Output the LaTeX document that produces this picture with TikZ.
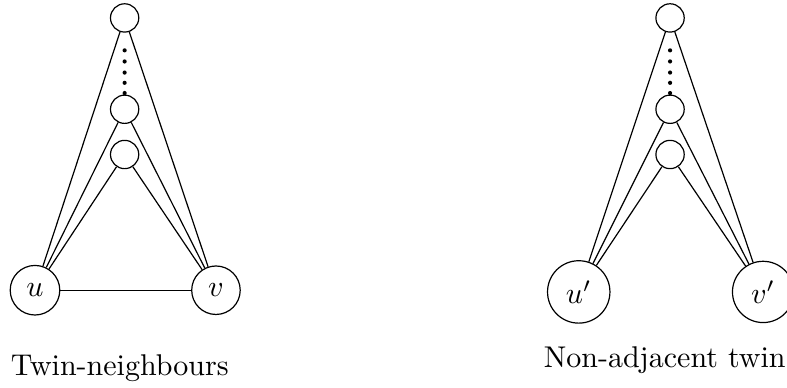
\documentclass[tikz,border=0pt]{standalone}
\usepackage{tikz}
\usetikzlibrary{shapes.geometric}
\usepackage{amsmath, amsfonts}
\tikzset{vtx/.style={draw=black, circle}}

\begin{document}
\begin{tikzpicture}
      \useasboundingbox (-0.41,-1.136) rectangle (8.81,3.40);
      % twin-neighbours
      \node [vtx, name=u] at (0,0) {$u$};
      \node [vtx, name=v] at (2.12,0) {$v$};
      \node [vtx, name=a1] at (1.05,3.19) {};
      \node [vtx, name=a2] at (1.05,2.12) {};
      \node [vtx, name=a3] at (1.05,1.59) {};
      \foreach \y in {2.31,2.43,2.55,2.68,2.81}
        \fill (1.05,\y) circle (0.7pt);
      \node [anchor=base west, inner sep=0pt, name=lab1] at (-0.29,-1.0) {Twin-neighbours};

      \draw (u) -- (a1);
      \draw (u) -- (a2);
      \draw (u) -- (a3);
      \draw (v) -- (a1);
      \draw (v) -- (a2);
      \draw (v) -- (a3);
      \draw (u) -- (v);

      % non-adjacent twins
      \node [vtx, name=up] at (6.37,-0.02) {$u'$};
      \node [vtx, name=vp] at (8.53,-0.02) {$v'$};
      \node [vtx, name=b1] at (7.44,3.19) {};
      \node [vtx, name=b2] at (7.44,2.12) {};
      \node [vtx, name=b3] at (7.44,1.59) {};
      \foreach \y in {2.31,2.43,2.55,2.68,2.81}
        \fill (7.44,\y) circle (0.7pt);
      \node [anchor=base east, inner sep=0pt, name=lab2] at (8.80,-0.91) {Non-adjacent twin};

      \draw (up) -- (b1);
      \draw (up) -- (b2);
      \draw (up) -- (b3);
      \draw (vp) -- (b1);
      \draw (vp) -- (b2);
      \draw (vp) -- (b3);
\end{tikzpicture}
\end{document}
